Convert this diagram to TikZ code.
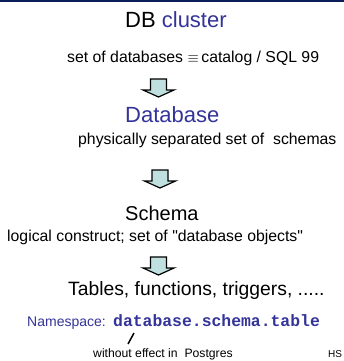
\documentclass[tikz,border=0pt]{standalone}
\usepackage{fontspec}
\setmainfont{Liberation Sans}[Ligatures=TeXOff]
\newfontfamily\codefont{Liberation Mono}
\definecolor{txtblue}{RGB}{51,51,153}
\definecolor{arrfill}{RGB}{192,224,224}
\definecolor{topline}{RGB}{12,30,90}
\begin{document}
\begin{tikzpicture}[x=1pt,y=-1pt,
  lbl/.style={inner sep=0pt, anchor=base west},
  blockarr/.style={draw=black, line width=1.2pt, fill=arrfill, line join=miter},
  slashline/.style={draw=black, line width=1.5pt}]
\useasboundingbox (0,0) rectangle (344,361);
\fill[topline] (0,0) rectangle (344,2);
\node[lbl, font=\fontsize{22}{26}\selectfont] (cluster) at (125,28) {DB \textcolor{txtblue}{cluster}};
\node[lbl, font=\fontsize{15.8}{19}\selectfont] (catalog) at (67,63) {set of databases ${\equiv}$\,catalog / SQL 99};
\node[lbl, font=\fontsize{22}{26}\selectfont, text=txtblue] (database) at (125,122) {Database};
\node[lbl, font=\fontsize{15.8}{19}\selectfont] (phys) at (78,144) {physically separated set of\ \ schemas};
\node[lbl, font=\fontsize{20}{24}\selectfont] (schema) at (125,220) {Schema};
\node[lbl, font=\fontsize{15.8}{19}\selectfont] (logical) at (7,241) {logical construct; set of "database objects"};
\node[lbl, font=\fontsize{19.3}{23}\selectfont] (tables) at (68,295) {Tables, functions, triggers, .....};
\node[lbl, font=\fontsize{14}{17}\selectfont, text=txtblue] (ns) at (27,326) {Namespace:};
\node[lbl, font=\fontsize{16.4}{19}\selectfont\codefont\bfseries, text=txtblue] (nscode) at (113,326) {database.schema.table};
\node[lbl, font=\fontsize{12.2}{15}\selectfont] (noeffect) at (93,357.5) {without effect in\ \ Postgres};
\node[lbl, font=\fontsize{10}{12}\selectfont] (hs) at (328,357) {HS};
\newcommand\blockarrow[1]{%
  \draw[blockarr] (#1) ++(-8,0) -- ++(16,0) -- ++(0,11) -- ++(7.5,0) -- ++(-15.5,7) -- ++(-15.5,-7) -- ++(7.5,0) -- cycle;}
\coordinate (a1) at (158.5,79);
\coordinate (a2) at (160,170);
\coordinate (a3) at (158.5,257);
\blockarrow{a1}
\blockarrow{a2}
\blockarrow{a3}
\coordinate (s1) at (128,344);
\coordinate (s2) at (134,333);
\draw[slashline] (s1) -- (s2);
\end{tikzpicture}
\end{document}
